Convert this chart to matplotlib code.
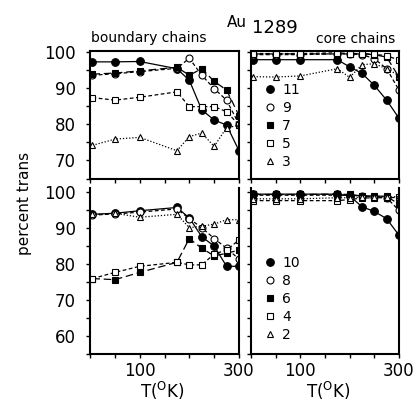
import matplotlib
matplotlib.use("Agg")
from matplotlib import pyplot as plt
from matplotlib.lines import Line2D

plt.rcParams['font.family'] = ['DejaVu Sans']

# Temperatures (K)
T = [5, 50, 100, 175, 200, 225, 250, 275, 300]

# boundary chains (top left)
b11 = [97.3, 97.3, 97.4, 95.4, 92.2, 84.0, 81.2, 79.8, 72.7]
b9 = [93.6, 94.0, 94.6, 95.5, 98.3, 93.6, 89.9, 86.7, 80.0]
b7 = [93.9, 94.2, 94.8, 95.8, 93.6, 95.4, 91.9, 89.5, 82.4]
b5 = [87.4, 86.7, 87.5, 89.0, 84.9, 84.9, 84.9, 83.5, 79.8]
b3 = [74.2, 75.9, 76.4, 72.7, 76.6, 77.6, 73.9, 79.1, 79.7]

# core chains (top right)
c11 = [97.9, 97.9, 97.9, 97.9, 95.9, 94.1, 90.8, 86.7, 81.7]
c9 = [99.3, 99.3, 99.3, 99.5, 99.5, 99.3, 98.2, 95.4, 89.5]
c7 = [99.5, 99.5, 99.5, 99.5, 99.5, 99.5, 99.3, 98.6, 93.1]
c5 = [99.6, 99.6, 99.6, 99.8, 99.6, 99.6, 99.4, 99.0, 97.8]
c3 = [93.2, 93.1, 93.4, 95.4, 93.0, 96.5, 96.8, 95.4, 93.5]

# boundary chains (bottom left)
d10 = [93.7, 94.0, 94.7, 95.6, 92.7, 87.5, 84.9, 79.3, 79.3]
d8 = [93.5, 93.8, 94.3, 95.2, 92.5, 90.0, 87.0, 84.3, 81.3]
d6 = [75.9, 75.6, 77.6, 80.4, 87.0, 84.3, 82.2, 82.9, 83.8]
d4 = [75.9, 77.6, 79.3, 80.4, 79.7, 79.7, 82.7, 83.8, 86.6]
d2 = [93.7, 94.0, 92.9, 93.7, 90.0, 90.4, 91.0, 92.2, 92.2]

# core chains (bottom right)
e10 = [99.3, 99.3, 99.3, 99.3, 98.8, 95.8, 94.5, 92.5, 87.9]
e8 = [99.0, 99.0, 99.0, 99.0, 99.0, 98.8, 98.6, 98.3, 94.8]
e6 = [99.2, 99.2, 99.2, 99.3, 99.2, 98.8, 98.8, 98.7, 96.5]
e4 = [97.5, 97.5, 97.5, 97.5, 97.8, 98.2, 98.3, 98.3, 98.4]
e2 = [98.0, 98.0, 98.0, 98.3, 98.3, 98.5, 98.6, 98.5, 98.6]

top_labels = ['11', '9', '7', '5', '3']
bot_labels = ['10', '8', '6', '4', '2']

# marker / line style for the 5 series (same order in every panel)
styles = [
    dict(marker='o', mfc='black', ms=5.5, ls='-'),
    dict(marker='o', mfc='white', ms=5, ls=(0, (3, 2))),
    dict(marker='s', mfc='black', ms=5, ls=(0, (6, 3))),
    dict(marker='s', mfc='white', ms=4.5, ls=(0, (3, 2))),
    dict(marker='^', mfc='white', ms=4.5, ls=(0, (1, 1.5))),
]


def draw(ax, series, ylo, yhi, show_ylab, show_xlab):
    for s, st in zip(series, styles):
        ax.plot(T, s, color='black', lw=0.9, mec='black', mew=0.8, **st)
    ax.set_xlim(0, 300)
    ax.set_ylim(ylo, yhi)
    ax.set_xticks(range(0, 301, 50))
    if show_xlab:
        ax.set_xticklabels(['', '', '100', '', '', '', '300'])
    else:
        ax.set_xticklabels([])
    ax.set_yticks(range(ylo, 101, 5))
    if show_ylab:
        ax.set_yticklabels([str(v) if v % 10 == 0 else '' for v in range(ylo, 101, 5)])
    else:
        ax.set_yticklabels([])
    ax.tick_params(direction='out', length=3, width=1, labelsize=12)
    ax.tick_params(axis='x', pad=3)
    ax.tick_params(axis='y', pad=7)
    for sp in ax.spines.values():
        sp.set_linewidth(1.5)


fig = plt.figure(figsize=(4.15, 4.03), dpi=100)

ax1 = fig.add_axes([0.2169, 0.557, 0.359, 0.3164])
ax2 = fig.add_axes([0.6048, 0.557, 0.3566, 0.3164])
ax3 = fig.add_axes([0.2169, 0.1216, 0.359, 0.4119])
ax4 = fig.add_axes([0.6048, 0.1216, 0.3566, 0.4119])

draw(ax1, [b11, b9, b7, b5, b3], 65, 100.3, True, False)
draw(ax2, [c11, c9, c7, c5, c3], 65, 100.3, False, False)
draw(ax3, [d10, d8, d6, d4, d2], 55, 101, True, True)
draw(ax4, [e10, e8, e6, e4, e2], 55, 101, False, True)
ax3.spines['top'].set_visible(False)
ax4.spines['top'].set_visible(False)

# legends (markers only)
for ax, labs, y0 in [(ax2, top_labels, 0.792), (ax4, bot_labels, 0.625)]:
    hs = [Line2D([], [], color='black', lw=0, marker=st['marker'], mfc=st['mfc'],
                 mec='black', ms=st['ms'], mew=0.8) for st in styles]
    ax.legend(hs, labs, loc='upper left', bbox_to_anchor=(0.05, y0), frameon=False,
              handlelength=0.8, handletextpad=0.5, labelspacing=0.29, fontsize=10,
              borderaxespad=0)

fig.text(0.219, 0.9045, 'boundary chains', fontsize=10, ha='left', va='center')
fig.text(0.953, 0.903, 'core chains', fontsize=10, ha='right', va='center')
fig.text(0.547, 0.943, 'Au', fontsize=11, ha='left', va='center')
fig.text(0.607, 0.931, '1289', fontsize=13, ha='left', va='center')

fig.text(0.058, 0.494, 'percent trans', fontsize=11, rotation=90, ha='center', va='center')
fig.text(0.390, 0.003, 'T($^{\\rm O}$K)', fontsize=12, ha='center', va='bottom')
fig.text(0.790, 0.003, 'T($^{\\rm O}$K)', fontsize=12, ha='center', va='bottom')

fig.savefig('out.png', dpi=100)
